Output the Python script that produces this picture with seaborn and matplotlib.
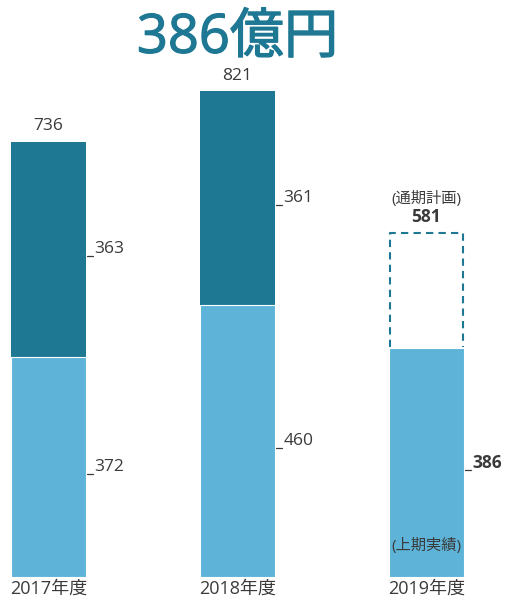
import matplotlib
matplotlib.use("Agg")
import matplotlib.pyplot as plt
import matplotlib.patheffects as pe
import seaborn as sns
import pandas as pd
import numpy as np

years = ["2017年度", "2018年度", "2019年度"]
first_half = [372, 460, 386]
second_half = [363, 361, np.nan]
totals = [736, 821, np.nan]
plan_total = 581
title_text = "386億円"

DARK = "#1e7893"
LIGHT = "#5db4d8"
TXT = "#3a3a3a"

sns.set_theme(style="white")
FAM = ["Open Sans", "Noto Sans CJK JP", "DejaVu Sans"]
plt.rcParams["font.family"] = FAM

fig = plt.figure(figsize=(5.07, 5.98), dpi=100)
ax = fig.add_axes([0, 21 / 598, 1, 577 / 598])

x = np.arange(len(years))
width = 75 / 189
stack_top = [a + b if not np.isnan(b) else np.nan for a, b in zip(first_half, second_half)]

df_top = pd.DataFrame({"year": years, "v": stack_top})
df_low = pd.DataFrame({"year": years, "v": first_half})

sns.barplot(data=df_top, x="year", y="v", color=DARK, saturation=1, width=width,
            edgecolor="none", ax=ax, zorder=2)
sns.barplot(data=df_low, x="year", y="v", color=LIGHT, saturation=1, width=width,
            edgecolor="white", linewidth=0.8, ax=ax, zorder=3)

# plan outline for 2019 (left, top, right sides)
w2 = width * 0.97 / 2
ax.plot([x[2] - w2, x[2] - w2, x[2] + w2, x[2] + w2],
        [first_half[2] + 2, plan_total, plan_total, first_half[2] + 2],
        color=DARK, lw=1.5, linestyle=(0, (3.5, 2.5)), zorder=2,
        solid_joinstyle="miter")

ax.set_xlim(-48.5 / 189, (507 - 48.5) / 189)
ax.set_ylim(0, 577 / 0.592)
ax.set_xlabel("")
ax.set_ylabel("")
ax.set_yticks([])
ax.tick_params(axis="x", length=0, pad=2, labelsize=13, labelcolor=TXT)
for s in ax.spines.values():
    s.set_visible(False)
ax.patch.set_alpha(0)
fig.patch.set_facecolor("white")

def side_label(i, ymid, text, bold=False):
    right = x[i] + width / 2
    tick_y = ymid - 12
    ax.plot([right + 0.005, right + 0.035], [tick_y, tick_y], color=TXT, lw=0.9,
            zorder=4, clip_on=False)
    ax.text(right + 0.045, ymid, text, ha="left", va="center", fontsize=12.5,
            color=TXT, fontweight="bold" if bold else "normal")

for i in range(2):
    ax.text(x[i], totals[i] + 12, str(totals[i]), ha="center", va="bottom",
            fontsize=12.5, color=TXT)
    side_label(i, first_half[i] / 2, str(first_half[i]))
    side_label(i, first_half[i] + second_half[i] / 2, str(second_half[i]))

side_label(2, first_half[2] / 2, str(first_half[2]), bold=True)
ax.text(x[2], plan_total + 12, str(plan_total), ha="center", va="bottom",
        fontsize=12.5, color=TXT, fontweight="bold")
ax.text(x[2], plan_total + 44, "(通期計画)", ha="center", va="bottom",
        fontsize=11, color=TXT)
ax.text(x[2], 52, "(上期実績)", ha="center", va="center", fontsize=11,
        color=TXT, zorder=5)

ax.text(1, 910, title_text, ha="center", va="center", fontsize=39,
        color=DARK, fontweight="normal",
        path_effects=[pe.withStroke(linewidth=0.9, foreground=DARK)])

fig.savefig("out.png", dpi=100)
